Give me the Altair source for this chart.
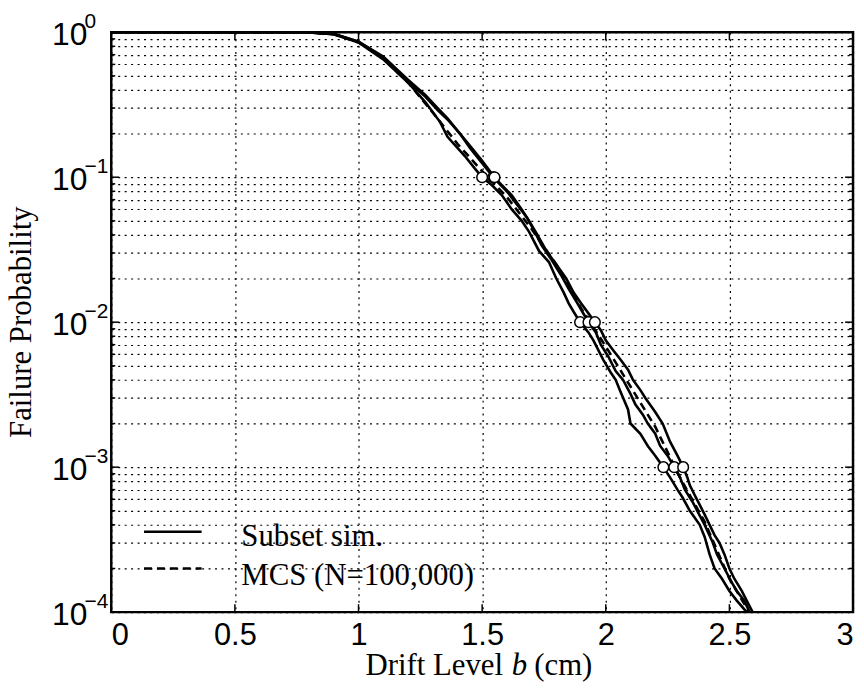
import altair as alt
import pandas as pd

W, H = 747, 584

# ---------------- data ----------------
run1_b = [0, 0.70, 0.80, 0.90, 1.00, 1.10, 1.20, 1.27, 1.33, 1.36, 1.43, 1.47, 1.50, 1.54, 1.58, 1.62,
          1.66, 1.69, 1.73, 1.77, 1.80, 1.83, 1.85, 1.87, 1.896, 1.93, 1.95, 1.99, 2.02, 2.04, 2.06,
          2.09, 2.10, 2.14, 2.17, 2.20, 2.233, 2.26, 2.29, 2.31, 2.34, 2.38, 2.40, 2.42, 2.44, 2.47,
          2.50, 2.53, 2.57]
run1_p = [1, 1, 0.995, 0.97, 0.85, 0.65, 0.45, 0.33, 0.24, 0.19, 0.14, 0.115, 0.10, 0.088, 0.075, 0.06,
          0.05, 0.042, 0.031, 0.026, 0.020, 0.016, 0.0135, 0.0118, 0.010, 0.0085, 0.0075, 0.0055, 0.0045,
          0.0040, 0.0033, 0.0025, 0.0020, 0.0017, 0.0014, 0.0012, 0.0010, 0.00085, 0.0007, 0.00062,
          0.0005, 0.0004, 0.00033, 0.00025, 0.0002, 0.00017, 0.00014, 0.00012, 0.0001]

run2_b = [0, 0.70, 0.80, 0.90, 1.00, 1.10, 1.20, 1.27, 1.32, 1.36, 1.41, 1.45, 1.50, 1.545, 1.57, 1.60,
          1.64, 1.68, 1.71, 1.74, 1.78, 1.82, 1.85, 1.88, 1.93, 1.96, 1.98, 2.01, 2.04, 2.07, 2.10, 2.12,
          2.15, 2.17, 2.20, 2.22, 2.25, 2.277, 2.30, 2.32, 2.35, 2.37, 2.40, 2.43, 2.45, 2.48, 2.51,
          2.53, 2.56, 2.582]
run2_p = [1, 1, 0.995, 0.97, 0.86, 0.67, 0.46, 0.36, 0.29, 0.25, 0.20, 0.16, 0.125, 0.10, 0.09, 0.08,
          0.065, 0.053, 0.043, 0.034, 0.027, 0.021, 0.017, 0.014, 0.010, 0.0085, 0.0070, 0.0058, 0.0046,
          0.0040, 0.0032, 0.0027, 0.0023, 0.0020, 0.0017, 0.0014, 0.0012, 0.0010, 0.00085, 0.0007,
          0.00058, 0.0005, 0.0004, 0.00031, 0.00025, 0.0002, 0.00016, 0.00014, 0.00012, 0.0001]

run3_b = [0, 0.70, 0.80, 0.90, 1.00, 1.10, 1.20, 1.27, 1.32, 1.36, 1.41, 1.45, 1.50, 1.55, 1.58, 1.62,
          1.66, 1.69, 1.72, 1.76, 1.80, 1.84, 1.87, 1.90, 1.93, 1.956, 1.98, 2.00, 2.03, 2.06, 2.09,
          2.11, 2.14, 2.16, 2.20, 2.23, 2.26, 2.29, 2.313, 2.33, 2.34, 2.36, 2.38, 2.40, 2.42, 2.44,
          2.46, 2.48, 2.50, 2.52, 2.55, 2.57, 2.594]
run3_p = [1, 1, 0.995, 0.975, 0.86, 0.68, 0.47, 0.37, 0.30, 0.255, 0.20, 0.165, 0.13, 0.10, 0.088, 0.075,
          0.060, 0.050, 0.041, 0.031, 0.025, 0.020, 0.016, 0.0135, 0.0115, 0.010, 0.0088, 0.0075, 0.0064,
          0.0055, 0.0047, 0.0040, 0.0034, 0.0030, 0.0024, 0.0020, 0.0015, 0.0012, 0.0010, 0.00085,
          0.00075, 0.00064, 0.00055, 0.00047, 0.0004, 0.00034, 0.0003, 0.00025, 0.0002, 0.00017,
          0.00014, 0.00012, 0.0001]

mcs_b = [0, 0.80, 0.90, 1.00, 1.10, 1.20, 1.30, 1.40, 1.50, 1.60, 1.70, 1.80, 1.90, 2.00, 2.10,
         2.20, 2.30, 2.40, 2.50, 2.58]
mcs_p = [1, 0.995, 0.97, 0.85, 0.66, 0.45, 0.28, 0.17, 0.11, 0.073, 0.044, 0.025, 0.0125, 0.0068,
         0.0036, 0.0019, 0.00085, 0.00042, 0.00017, 0.0001]

circle_b = [1.50, 1.545, 1.55, 1.896, 1.93, 1.956, 2.233, 2.277, 2.313]
circle_p = [0.1, 0.1, 0.1, 0.01, 0.01, 0.01, 0.001, 0.001, 0.001]

ytick_major = [1, 0.1, 0.01, 0.001, 0.0001]
ytick_exp = ["0", "\u22121", "\u22122", "\u22123", "\u22124"]
ytick_minor = [2e-4, 3e-4, 4e-4, 5e-4, 6e-4, 7e-4, 8e-4, 9e-4,
               2e-3, 3e-3, 4e-3, 5e-3, 6e-3, 7e-3, 8e-3, 9e-3,
               2e-2, 3e-2, 4e-2, 5e-2, 6e-2, 7e-2, 8e-2, 9e-2,
               0.2, 0.3, 0.4, 0.5, 0.6, 0.7, 0.8, 0.9]
xticks = [0, 0.5, 1, 1.5, 2, 2.5, 3]

legend_labels = ["Subset sim.", "MCS (N=100,000)"]
x_title_parts = ["Drift Level", "b", "(cm)"]
y_title = "Failure Probability"

# ---------------- tables ----------------
def run_df(bs, ps, name):
    return pd.DataFrame({"b": bs, "p": ps, "run": name, "i": list(range(len(bs)))})

runs = pd.concat([run_df(run1_b, run1_p, "r1"), run_df(run2_b, run2_p, "r2"),
                  run_df(run3_b, run3_p, "r3")], ignore_index=True)
mcs = run_df(mcs_b, mcs_p, "mcs")
circles = pd.DataFrame({"b": circle_b, "p": circle_p})
ymaj = pd.DataFrame({"p": ytick_major, "e": ytick_exp, "t": ["10"] * len(ytick_major)})
ymin = pd.DataFrame({"p": ytick_minor})
xt = pd.DataFrame({"b": xticks})

SERIF = "Liberation Serif"
SANS = "Liberation Sans"
SERIF_SIZE = 31
GRID = dict(grid=True, gridDash=[2, 4.5], gridColor="black", gridOpacity=1, gridWidth=1.2)

x_enc = alt.X("b:Q", scale=alt.Scale(domain=[0, 3], nice=False, zero=False),
              axis=alt.Axis(values=xticks, format="~g", domain=False, ticks=False,
                            labelFont=SANS, labelFontSize=31, labelColor="black",
                            labelPadding=9, title=None, **GRID))
y_enc = alt.Y("p:Q", scale=alt.Scale(type="log", domain=[1e-4, 1], nice=False),
              axis=alt.Axis(values=ytick_major + ytick_minor, labels=False, domain=False,
                            ticks=False, title=None, **GRID))

lines = alt.Chart(runs).mark_line(color="black", strokeWidth=2.6, clip=True).encode(
    x=x_enc, y=y_enc, detail="run:N", order="i:Q")
mcs_line = alt.Chart(mcs).mark_line(color="black", strokeWidth=2.6, strokeDash=[8, 5], clip=True).encode(
    x=x_enc, y=y_enc, order="i:Q")
pts = alt.Chart(circles).mark_point(shape="circle", filled=True, fill="white", stroke="black",
                                    strokeWidth=1.5, size=115, opacity=1).encode(x=x_enc, y=y_enc)

# y tick labels 10^k
lab10 = alt.Chart(ymaj).mark_text(font=SANS, fontSize=32, align="right", baseline="alphabetic",
                                   dy=13, color="black").encode(
    x=alt.value(-24), y=y_enc, text="t:N")
labexp = alt.Chart(ymaj).mark_text(font=SANS, fontSize=21, align="left", baseline="alphabetic",
                                    dy=-4, color="black").encode(
    x=alt.value(-27), y=y_enc, text="e:N")

# inward ticks
tick_kw = dict(color="black", strokeWidth=1.5)
t_left = alt.Chart(ymaj).mark_rule(**tick_kw).encode(y=y_enc, x=alt.value(0), x2=alt.value(8))
t_right = alt.Chart(ymaj).mark_rule(**tick_kw).encode(y=y_enc, x=alt.value(W), x2=alt.value(W - 8))
tm_left = alt.Chart(ymin).mark_rule(**tick_kw).encode(y=y_enc, x=alt.value(0), x2=alt.value(4))
tm_right = alt.Chart(ymin).mark_rule(**tick_kw).encode(y=y_enc, x=alt.value(W), x2=alt.value(W - 4))
t_bot = alt.Chart(xt).mark_rule(**tick_kw).encode(x=x_enc, y=alt.value(H), y2=alt.value(H - 8))
t_top = alt.Chart(xt).mark_rule(**tick_kw).encode(x=x_enc, y=alt.value(0), y2=alt.value(8))

# legend (drawn inside the plot, no box)
one = pd.DataFrame({"k": [0]})
leg_l1 = alt.Chart(one).mark_rule(color="black", strokeWidth=2.6).encode(
    x=alt.value(33), x2=alt.value(91), y=alt.value(503))
leg_l2 = alt.Chart(one).mark_rule(color="black", strokeWidth=2.6, strokeDash=[8, 5]).encode(
    x=alt.value(33), x2=alt.value(91), y=alt.value(540))
leg_t1 = alt.Chart(pd.DataFrame({"s": [legend_labels[0]]})).mark_text(
    font=SERIF, fontSize=SERIF_SIZE, align="left", baseline="alphabetic", color="black").encode(
    x=alt.value(131), y=alt.value(517), text="s:N")
leg_t2 = alt.Chart(pd.DataFrame({"s": [legend_labels[1]]})).mark_text(
    font=SERIF, fontSize=SERIF_SIZE, align="left", baseline="alphabetic", color="black").encode(
    x=alt.value(131), y=alt.value(557), text="s:N")

# axis titles
xt1 = alt.Chart(pd.DataFrame({"s": [x_title_parts[0]]})).mark_text(
    font=SERIF, fontSize=SERIF_SIZE, align="left", baseline="alphabetic", color="black").encode(
    x=alt.value(256), y=alt.value(647), text="s:N")
xt2 = alt.Chart(pd.DataFrame({"s": [x_title_parts[1]]})).mark_text(
    font=SERIF, fontSize=SERIF_SIZE, fontStyle="italic", align="center", baseline="alphabetic",
    color="black").encode(x=alt.value(411), y=alt.value(647), text="s:N")
xt3 = alt.Chart(pd.DataFrame({"s": [x_title_parts[2]]})).mark_text(
    font=SERIF, fontSize=SERIF_SIZE, align="left", baseline="alphabetic", color="black").encode(
    x=alt.value(426), y=alt.value(647), text="s:N")
yt = alt.Chart(pd.DataFrame({"s": [y_title]})).mark_text(
    font=SERIF, fontSize=SERIF_SIZE, angle=270, align="center", baseline="middle", color="black").encode(
    x=alt.value(-90), y=alt.value(H / 2), text="s:N")

chart = alt.layer(
    lines, mcs_line, pts, lab10, labexp, t_left, t_right, tm_left, tm_right, t_bot, t_top,
    leg_l1, leg_l2, leg_t1, leg_t2, xt1, xt2, xt3, yt
).properties(
    width=W, height=H,
    autosize=alt.AutoSizeParams(type="none"),
    padding={"left": 104, "top": 22, "right": 3, "bottom": 74},
    background="white",
).configure_view(stroke="black", strokeWidth=2.5)

chart.save("out.html", embed_options={"renderer": "svg", "actions": False})
